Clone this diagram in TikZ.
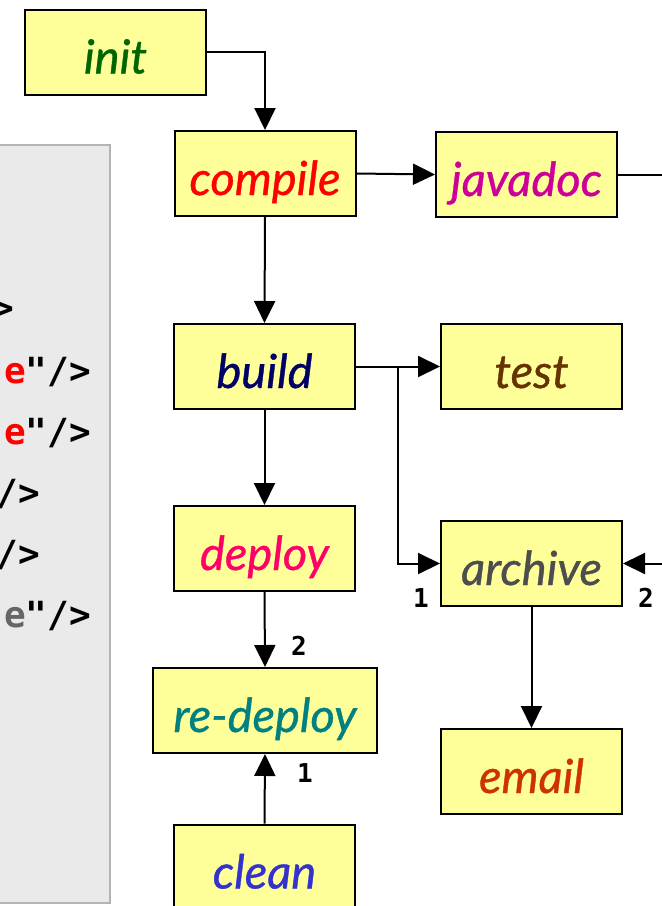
\documentclass[tikz,border=0pt]{standalone}
\usepackage{fontspec}
\usetikzlibrary{arrows.meta}
\newfontfamily\nodefont{Lato}[ItalicFeatures={FakeBold=0.8}]
\newfontfamily\codefont{DejaVu Sans Mono}
\definecolor{boxfill}{HTML}{FFFF99}
\definecolor{panelfill}{HTML}{EAEAEA}
\definecolor{panelline}{HTML}{B4B4B4}
\definecolor{cinit}{HTML}{006600}
\definecolor{ccompile}{HTML}{FF0000}
\definecolor{cjavadoc}{HTML}{CC0099}
\definecolor{cbuild}{HTML}{000066}
\definecolor{ctest}{HTML}{663300}
\definecolor{cdeploy}{HTML}{FF0066}
\definecolor{carchive}{HTML}{4D4D4D}
\definecolor{credeploy}{HTML}{008080}
\definecolor{cemail}{HTML}{CC3300}
\definecolor{cclean}{HTML}{3333CC}
\definecolor{cgray}{HTML}{666666}
\tikzset{
  task/.style={draw=black, line width=2pt, fill=boxfill, minimum width=181pt,
    minimum height=85pt, inner sep=0pt, text height=47pt, text depth=4pt,
    font=\nodefont\itshape\fontsize{47}{47}\selectfont},
  arr/.style={line width=2pt, -{Triangle[length=22pt,width=21pt]}},
  plain/.style={line width=2pt},
  num/.style={font=\codefont\bfseries\fontsize{26}{26}\selectfont, inner sep=0pt},
  code/.style={font=\codefont\bfseries\fontsize{36}{36}\selectfont, inner sep=0pt, anchor=base east}
}
\begin{document}
\begin{tikzpicture}[x=1pt,y=-1pt]
\useasboundingbox (0,0) rectangle (662,906);
\begin{scope}
\clip (0,0) rectangle (662,906);
% left panel
\draw[fill=panelfill, draw=panelline, line width=2pt] (-10,145) rectangle (110,903);
\node[code] (r1) at (14,320) {>};
\node[code] (r2) at (91,383) {\textcolor{ccompile}{e}"/>};
\node[code] (r3) at (91,444) {\textcolor{ccompile}{e}"/>};
\node[code] (r4) at (40,505) {/>};
\node[code] (r5) at (40,566) {/>};
\node[code] (r6) at (91,627) {\textcolor{cgray}{e}"/>};
% nodes
\node[task, text=cinit] (init) at (115.5,52) {init};
\node[task, text=ccompile] (compile) at (265,173.5) {compile};
\node[task, text=cjavadoc] (javadoc) at (526.5,174.5) {javadoc};
\node[task, text=cbuild] (build) at (264.5,366.5) {build};
\node[task, text=ctest] (test) at (531.5,366.5) {test};
\node[task, text=cdeploy] (deploy) at (264.5,548.5) {deploy};
\node[task, text=carchive] (archive) at (531.5,563.5) {archive};
\node[task, text=credeploy, minimum width=224pt] (redeploy) at (265,710.5) {re-deploy};
\node[task, text=cemail] (email) at (531.5,771.5) {email};
\node[task, text=cclean] (clean) at (264.5,867) {clean};
% connectors
\coordinate (jout) at (670,174.5);
\coordinate (br) at (398,366.5);
\coordinate (ain) at (670,563.5);
\draw[arr] (init.east) -| (compile.north);
\draw[arr] (compile.south) -- (build.north);
\draw[arr] (compile.east) -- (javadoc.west);
\draw[plain] (javadoc.east) -- (jout);
\draw[arr] (build.east) -- (test.west);
\draw[arr] (br) |- (archive.west);
\draw[arr] (build.south) -- (deploy.north);
\draw[arr] (deploy.south) -- (redeploy.north);
\draw[arr] (clean.north) -- (redeploy.south);
\draw[arr] (archive.south) -- (email.north);
\draw[arr] (ain) -- (archive.east);
% labels
\node[num] (n1) at (299,646) {2};
\node[num] (n2) at (305,773) {1};
\node[num] (n3) at (421,598) {1};
\node[num] (n4) at (646,598) {2};
\end{scope}
\end{tikzpicture}
\end{document}
